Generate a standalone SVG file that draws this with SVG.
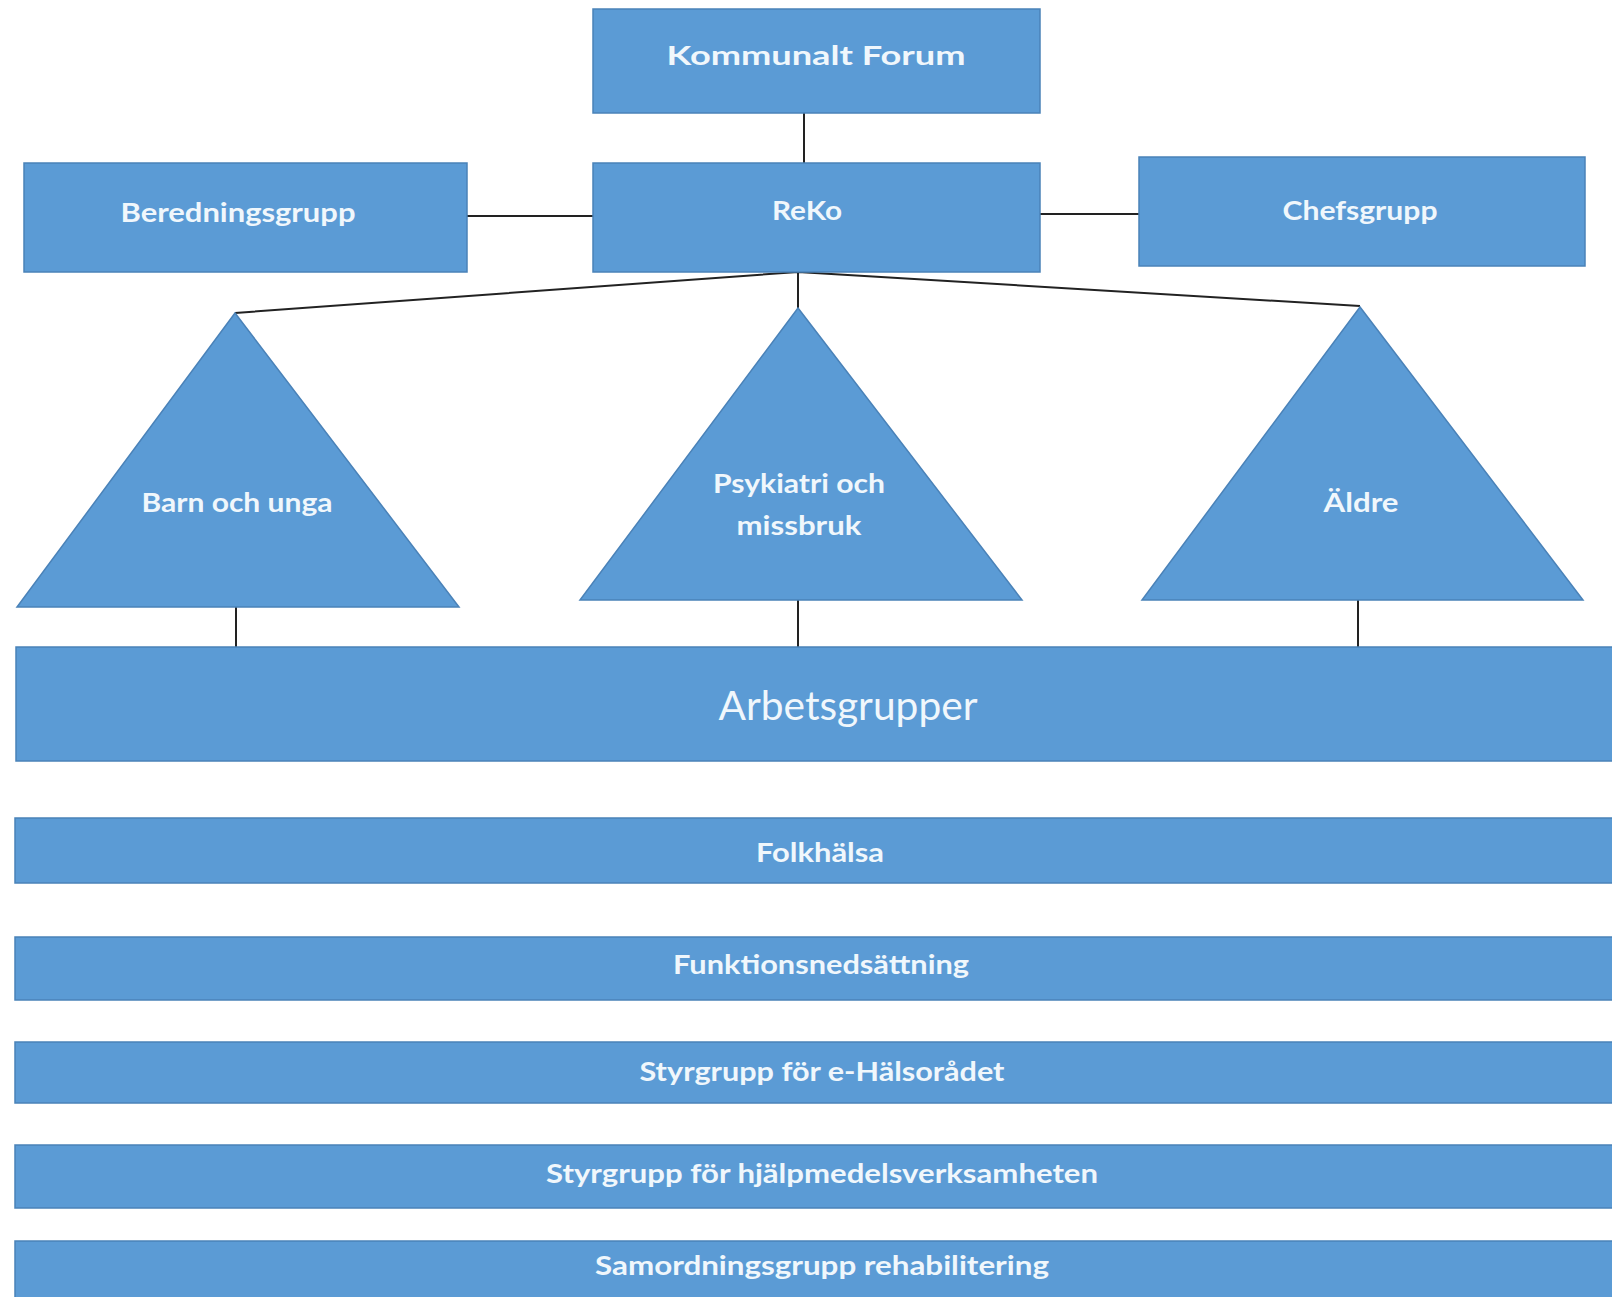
<svg xmlns="http://www.w3.org/2000/svg" width="1612" height="1297" viewBox="0 0 1612 1297">
  <style>
    .box { fill: #5b9bd5; stroke: #4a82b8; stroke-width: 1.5; }
    .lbl { font-family: Lato, "Liberation Sans", sans-serif; font-weight: bold; font-size: 27px; fill: #f0f7fc; text-anchor: middle; }
    .big { font-family: Lato, "Liberation Sans", sans-serif; font-weight: normal; font-size: 40px; fill: #f0f7fc; text-anchor: middle; }
    .con { stroke: #222; stroke-width: 2; fill: none; }
  </style>
  <rect x="0" y="0" width="1612" height="1297" fill="#ffffff"/>

  <g id="connectors">
    <line class="con" x1="804" y1="113" x2="804" y2="163"/>
    <line class="con" x1="467" y1="216" x2="593" y2="216"/>
    <line class="con" x1="1040" y1="214" x2="1139" y2="214"/>
    <polyline class="con" points="235,313 798,272 1360,306"/>
    <line class="con" x1="798" y1="272" x2="798" y2="308"/>
    <line class="con" x1="236" y1="607" x2="236" y2="647"/>
    <line class="con" x1="798" y1="600" x2="798" y2="647"/>
    <line class="con" x1="1358" y1="600" x2="1358" y2="647"/>
  </g>

  <g id="kommunalt-forum">
    <rect class="box" x="593" y="9" width="447" height="104"/>
    <text class="lbl" x="816" y="65" font-size="30" textLength="299" lengthAdjust="spacingAndGlyphs">Kommunalt Forum</text>
  </g>
  <g id="reko">
    <rect class="box" x="593" y="163" width="447" height="109"/>
    <text class="lbl" x="807" y="220" textLength="70" lengthAdjust="spacingAndGlyphs">ReKo</text>
  </g>
  <g id="beredningsgrupp">
    <rect class="box" x="24" y="163" width="443" height="109"/>
    <text class="lbl" x="238" y="222" textLength="235" lengthAdjust="spacingAndGlyphs">Beredningsgrupp</text>
  </g>
  <g id="chefsgrupp">
    <rect class="box" x="1139" y="157" width="446" height="109"/>
    <text class="lbl" x="1360" y="220" textLength="155" lengthAdjust="spacingAndGlyphs">Chefsgrupp</text>
  </g>

  <g id="barn-och-unga">
    <polygon class="box" points="235,313 459,607 17,607"/>
    <text class="lbl" x="237" y="512" textLength="191" lengthAdjust="spacingAndGlyphs">Barn och unga</text>
  </g>
  <g id="psykiatri-och-missbruk">
    <polygon class="box" points="798,308 1022,600 580,600"/>
    <text class="lbl" x="799" y="493" textLength="172" lengthAdjust="spacingAndGlyphs">Psykiatri och</text>
    <text class="lbl" x="799" y="535" textLength="125" lengthAdjust="spacingAndGlyphs">missbruk</text>
  </g>
  <g id="aldre">
    <polygon class="box" points="1360,307 1583,600 1142,600"/>
    <text class="lbl" x="1361" y="512" textLength="75" lengthAdjust="spacingAndGlyphs">Äldre</text>
  </g>

  <g id="arbetsgrupper">
    <rect class="box" x="16" y="647" width="1610" height="114"/>
    <text class="big" x="848" y="720" textLength="259" lengthAdjust="spacingAndGlyphs">Arbetsgrupper</text>
  </g>
  <g id="folkhalsa">
    <rect class="box" x="15" y="818" width="1610" height="65"/>
    <text class="lbl" x="820" y="862" textLength="128" lengthAdjust="spacingAndGlyphs">Folkhälsa</text>
  </g>
  <g id="funktionsnedsattning">
    <rect class="box" x="15" y="937" width="1610" height="63"/>
    <text class="lbl" x="821" y="974" textLength="296" lengthAdjust="spacingAndGlyphs">Funktionsnedsättning</text>
  </g>
  <g id="styrgrupp-e-halsoradet">
    <rect class="box" x="15" y="1042" width="1610" height="61"/>
    <text class="lbl" x="822" y="1081" textLength="365" lengthAdjust="spacingAndGlyphs">Styrgrupp för e-Hälsorådet</text>
  </g>
  <g id="styrgrupp-hjalpmedel">
    <rect class="box" x="15" y="1145" width="1610" height="63"/>
    <text class="lbl" x="822" y="1183" textLength="552" lengthAdjust="spacingAndGlyphs">Styrgrupp för hjälpmedelsverksamheten</text>
  </g>
  <g id="samordningsgrupp-rehabilitering">
    <rect class="box" x="15" y="1241" width="1610" height="70"/>
    <text class="lbl" x="822" y="1275" textLength="454" lengthAdjust="spacingAndGlyphs">Samordningsgrupp rehabilitering</text>
  </g>
</svg>
